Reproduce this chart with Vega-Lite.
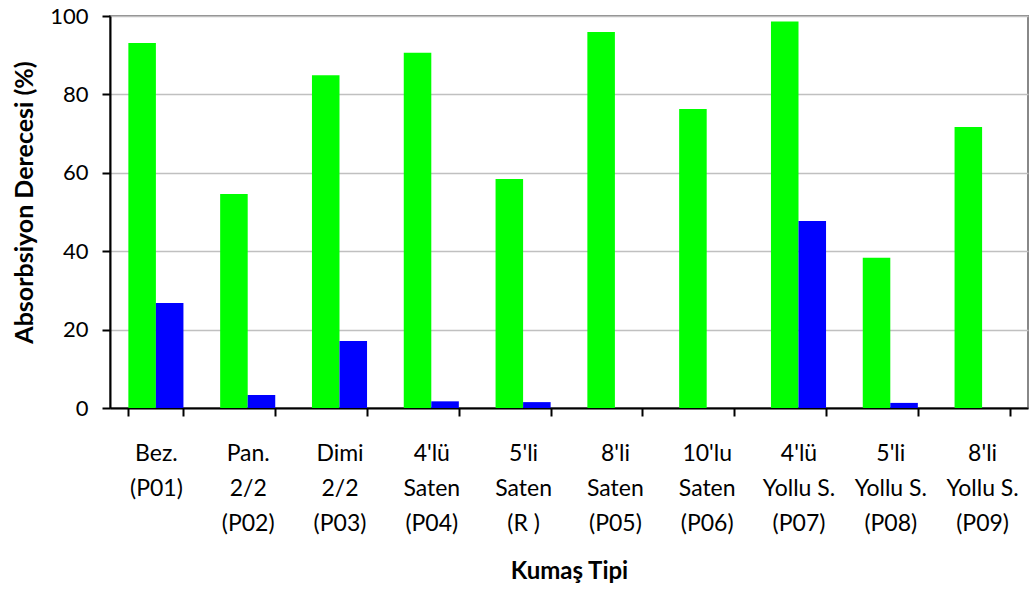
{
  "$schema": "https://vega.github.io/schema/vega-lite/v6.json",
  "width": 918,
  "height": 392,
  "autosize": "none",
  "padding": {"left": 110, "top": 16, "right": 5, "bottom": 182},
  "background": "white",
  "config": {
    "view": {"stroke": "#888888", "strokeWidth": 2},
    "font": "Lato"
  },
  "data": {
    "values": [
      {"cat": "Bez.|(P01)", "series": "A", "value": 93.1},
      {"cat": "Bez.|(P01)", "series": "B", "value": 26.8},
      {"cat": "Pan.|2/2|(P02)", "series": "A", "value": 54.6},
      {"cat": "Pan.|2/2|(P02)", "series": "B", "value": 3.3},
      {"cat": "Dimi|2/2|(P03)", "series": "A", "value": 84.9},
      {"cat": "Dimi|2/2|(P03)", "series": "B", "value": 17.1},
      {"cat": "4'lü|Saten|(P04)", "series": "A", "value": 90.6},
      {"cat": "4'lü|Saten|(P04)", "series": "B", "value": 1.7},
      {"cat": "5'li|Saten|(R )", "series": "A", "value": 58.4},
      {"cat": "5'li|Saten|(R )", "series": "B", "value": 1.5},
      {"cat": "8'li|Saten|(P05)", "series": "A", "value": 95.9},
      {"cat": "8'li|Saten|(P05)", "series": "B", "value": 0},
      {"cat": "10'lu|Saten|(P06)", "series": "A", "value": 76.3},
      {"cat": "10'lu|Saten|(P06)", "series": "B", "value": 0},
      {"cat": "4'lü|Yollu S.|(P07)", "series": "A", "value": 98.6},
      {"cat": "4'lü|Yollu S.|(P07)", "series": "B", "value": 47.7},
      {"cat": "5'li|Yollu S.|(P08)", "series": "A", "value": 38.3},
      {"cat": "5'li|Yollu S.|(P08)", "series": "B", "value": 1.3},
      {"cat": "8'li|Yollu S.|(P09)", "series": "A", "value": 71.7},
      {"cat": "8'li|Yollu S.|(P09)", "series": "B", "value": 0}
    ]
  },
  "mark": {"type": "bar"},
  "encoding": {
    "x": {
      "field": "cat",
      "type": "nominal",
      "sort": null,
      "scale": {"paddingInner": 0.4, "paddingOuter": 0.2},
      "axis": {
        "title": "Kumaş Tipi",
        "titleFont": "Lato",
        "titleFontSize": 24,
        "titleFontWeight": "bold",
        "titleColor": "black",
        "titleX": 459,
        "titleY": 163,
        "titleBaseline": "middle",
        "labelExpr": "split(datum.label, '|')",
        "labelAngle": 0,
        "labelFontSize": 23,
        "labelColor": "black",
        "labelLineHeight": 35,
        "labelPadding": 26,
        "labelBaseline": "top",
        "tickBand": "extent",
        "tickSize": 8,
        "tickWidth": 2,
        "tickColor": "black",
        "domainColor": "black",
        "domainWidth": 2,
        "grid": false
      }
    },
    "xOffset": {"field": "series", "type": "nominal"},
    "y": {
      "field": "value",
      "type": "quantitative",
      "scale": {"domain": [0, 100], "nice": false},
      "axis": {
        "title": "Absorbsiyon Derecesi (%)",
        "titleFont": "Lato",
        "titleFontSize": 25,
        "titleFontWeight": "bold",
        "titleColor": "black",
        "titleX": -86,
        "titleY": 186,
        "titleAngle": 270,
        "titleAlign": "center",
        "titleBaseline": "middle",
        "values": [0, 20, 40, 60, 80, 100],
        "labelFontSize": 22,
        "labelColor": "black",
        "labelPadding": 14,
        "tickSize": 8,
        "tickWidth": 2,
        "tickColor": "black",
        "domainColor": "black",
        "domainWidth": 2,
        "gridColor": "#c0c0c0",
        "gridWidth": 1.5
      }
    },
    "color": {
      "field": "series",
      "type": "nominal",
      "scale": {"domain": ["A", "B"], "range": ["#00ff00", "#0000ff"]},
      "legend": null
    }
  }
}
